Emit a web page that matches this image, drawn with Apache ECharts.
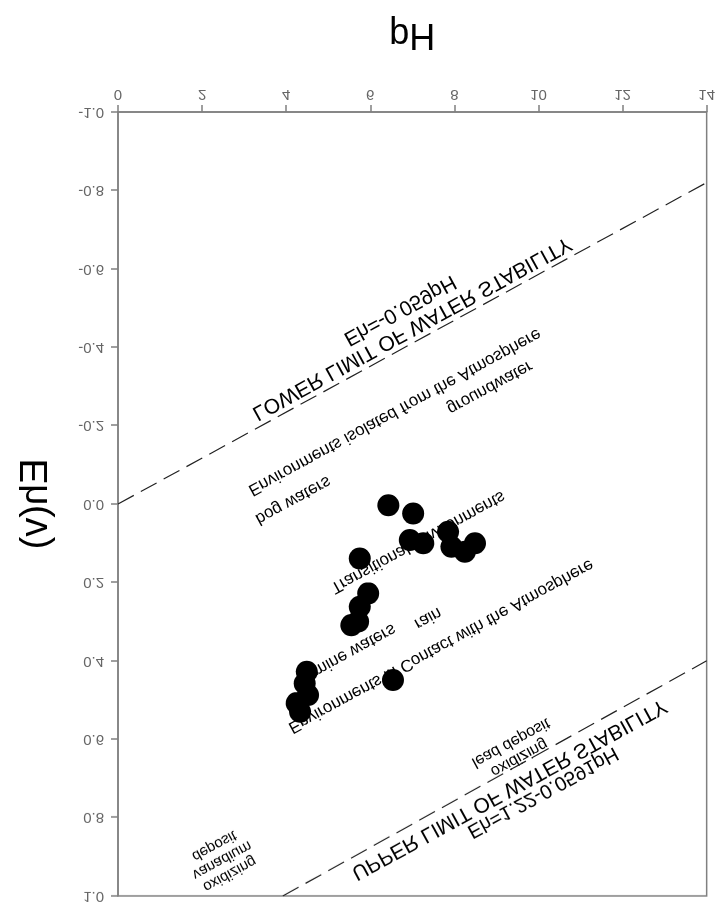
<!DOCTYPE html>
<html>
<head>
<meta charset="utf-8">
<script src="https://cdn.jsdelivr.net/npm/echarts@6/dist/echarts.min.js"></script>
<style>
html,body{margin:0;padding:0;background:#fff;}
#chart{width:718px;height:905px;transform:scaleY(-1);}
</style>
</head>
<body>
<div id="chart"></div>
<script>
// pH axis ticks
const pHMin = 0, pHMax = 14, pHStep = 2;
// Eh axis ticks
const EhMin = -1.0, EhMax = 1.0, EhStep = 0.2;

// Measured samples
const samplePH = [6.43, 7.02, 6.94, 7.26, 7.85, 7.93, 8.25, 8.49, 5.75, 5.95, 5.75, 5.55, 5.71, 4.49, 4.44, 4.52, 4.25, 4.33, 6.54];
const sampleEh = [0.003, 0.024, 0.092, 0.100, 0.071, 0.109, 0.122, 0.100, 0.139, 0.228, 0.262, 0.309, 0.300, 0.428, 0.458, 0.487, 0.508, 0.530, 0.449];

// Water stability limits (end points)
const lowerLimitPH = [0, 14];
const lowerLimitEh = [0.0, -0.82];
const upperLimitPH = [3.92, 14];
const upperLimitEh = [1.0, 0.40];

// Annotations
const annoText = [
  'Eh=-0.059pH',
  'LOWER LIMIT OF WATER STABILITY',
  'Environments isolated from the Atmosphere',
  'groundwater',
  'bog waters',
  'Transitional Environments',
  'rain',
  'mine waters',
  'Environments in Contact with the Atmosphere',
  'oxidizing\nlead deposit',
  'oxidizing\nvanadium\ndeposit',
  'UPPER LIMIT OF WATER STABILITY',
  'Eh=1.22-0.0591pH'
];
const annoPH = [6.70, 6.99, 6.58, 8.84, 4.16, 7.13, 7.37, 5.62, 7.68, 9.44, 2.47, 9.30, 10.10];
const annoEh = [-0.495, -0.449, -0.235, -0.298, -0.010, 0.097, 0.291, 0.372, 0.362, 0.628, 0.908, 0.727, 0.735];

const annoSize = [21, 21, 17, 17, 17, 17, 17, 17, 17, 16, 15, 21, 20];

const FONT = '"Liberation Sans", Arial, sans-serif';
const chart = echarts.init(document.getElementById('chart'), null, {renderer: 'canvas'});

const zip = (a, b) => a.map((v, i) => [v, b[i]]);

chart.setOption({
  animation: false,
  backgroundColor: '#fff',
  grid: {left: 118, right: 11, top: 9, bottom: 112, show: true, borderColor: '#808080', borderWidth: 1.5, backgroundColor: 'transparent'},
  xAxis: {
    type: 'value', min: pHMin, max: pHMax, interval: pHStep,
    name: 'pH', nameLocation: 'middle', nameGap: 60,
    nameTextStyle: {fontSize: 36, fontFamily: FONT, color: '#000'},
    axisLine: {show: true, onZero: false, lineStyle: {color: '#808080', width: 1.5}},
    axisTick: {show: true, length: 7, lineStyle: {color: '#808080', width: 1.5}},
    axisLabel: {fontSize: 15, color: '#666', fontFamily: FONT, margin: 10},
    splitLine: {show: false}
  },
  yAxis: {
    type: 'value', min: EhMin, max: EhMax, interval: EhStep,
    name: 'Eh(v)', nameLocation: 'middle', nameGap: 62,
    nameTextStyle: {fontSize: 38, fontFamily: FONT, color: '#000'},
    axisLine: {show: true, onZero: false, lineStyle: {color: '#808080', width: 1.5}},
    axisTick: {show: true, length: 7, lineStyle: {color: '#808080', width: 1.5}},
    axisLabel: {fontSize: 15, color: '#666', fontFamily: FONT, margin: 14,
      formatter: v => v.toFixed(1)},
    splitLine: {show: false}
  },
  series: [
    {type: 'line', data: zip(lowerLimitPH, lowerLimitEh), symbol: 'none', z: 3,
     lineStyle: {color: '#222', width: 1.2, type: [18, 8]}},
    {type: 'line', data: zip(upperLimitPH, upperLimitEh), symbol: 'none', z: 3,
     lineStyle: {color: '#222', width: 1.2, type: [18, 8]}},
    {type: 'scatter', data: zip(samplePH, sampleEh), symbol: 'circle', symbolSize: 22, z: 10,
     itemStyle: {color: '#000', opacity: 1}}
  ]
});

const elements = annoText.map((t, i) => {
  const p = chart.convertToPixel({gridIndex: 0}, [annoPH[i], annoEh[i]]);
  return {
    type: 'text', x: p[0], y: p[1], rotation: -0.50, z: 1, silent: true,
    style: {text: t, fontSize: annoSize[i], fontFamily: FONT, fill: '#000',
            align: 'center', verticalAlign: 'middle', lineHeight: annoSize[i] + 1}
  };
});
chart.setOption({graphic: {elements: elements}});
</script>
</body>
</html>
